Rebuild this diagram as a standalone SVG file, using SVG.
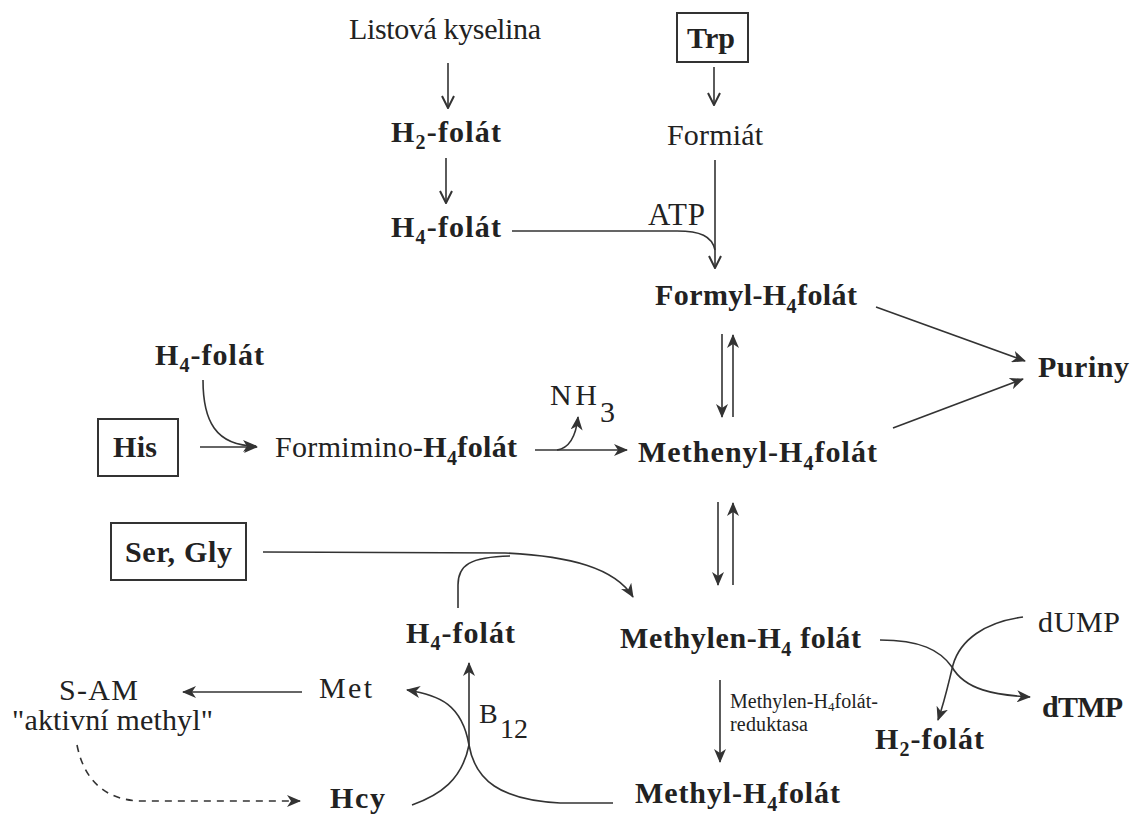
<svg xmlns="http://www.w3.org/2000/svg" width="1137" height="816" viewBox="0 0 1137 816">
<style>
svg{font-size:30px}
text{font-family:"Liberation Serif","Times New Roman",serif;fill:#222}
.b{font-weight:bold}
.box{fill:none;stroke:#333;stroke-width:2}
.c{fill:none;stroke:#333;stroke-width:1.6}
.arr{marker-end:url(#barb)}
.chev{marker-end:url(#chev)}
.dash{stroke-dasharray:7 6}
</style>
<defs>
<marker id="barb" viewBox="0 0 14 12" refX="13" refY="6" markerWidth="14" markerHeight="12" markerUnits="userSpaceOnUse" orient="auto">
<path d="M0,0 L14,6 L0,12 L4,6 Z" fill="#333"/>
</marker>
<marker id="chev" viewBox="0 0 14 14" refX="13" refY="7" markerWidth="14" markerHeight="14" markerUnits="userSpaceOnUse" orient="auto">
<path d="M1,1 L13,7 L1,13" fill="none" stroke="#333" stroke-width="2"/>
</marker>
</defs>
<rect width="1137" height="816" fill="#fff"/>

<g id="connectors">
<line class="c chev" x1="448" y1="63" x2="448" y2="108"/>
<line class="c chev" x1="446" y1="158" x2="446" y2="203"/>
<line class="c chev" x1="714" y1="67" x2="714" y2="105"/>
<line class="c chev" x1="715" y1="160" x2="715" y2="268"/>
<path class="c" d="M512,231 L677,231 C700,231 712,236 715,250"/>
<line class="c arr" x1="722" y1="334" x2="722" y2="417"/>
<line class="c arr" x1="733" y1="417" x2="733" y2="335"/>
<line class="c arr" x1="876" y1="307" x2="1025" y2="361"/>
<line class="c arr" x1="893" y1="428" x2="1023" y2="379"/>
<line class="c arr" x1="200" y1="447" x2="257" y2="447"/>
<path class="c arr" d="M203,380 C203,420 215,446 256,446"/>
<line class="c arr" x1="535" y1="450" x2="627" y2="450"/>
<path class="c arr" d="M557,450 C570,448 576,436 578,417"/>
<line class="c arr" x1="718" y1="502" x2="718" y2="585"/>
<line class="c arr" x1="733" y1="585" x2="733" y2="503"/>
<path class="c arr" d="M263,552 L505,553 C570,556 615,568 633,597"/>
<path class="c" d="M458,608 L458,585 C458,565 470,557 510,556"/>
<path class="c arr" d="M412,805 C440,795 462,780 469,745 L469,663"/>
<path class="c arr" d="M613,803 L560,803 C500,800 475,780 469,745 C462,705 440,695 407,690"/>
<line class="c arr" x1="302" y1="692" x2="183" y2="692"/>
<path class="c dash arr" d="M77,745 C85,785 110,800 140,801 L300,801"/>
<line class="c arr" x1="720" y1="680" x2="720" y2="762" stroke-width="2.4"/>
<path class="c arr" d="M880,640 C920,640 940,650 952,667 C965,690 995,695 1030,697"/>
<path class="c arr" d="M1023,617 C985,622 960,640 953,665 C948,685 945,700 938,720"/>
</g>

<g id="listova"><text x="349" y="39" textLength="192" lengthAdjust="spacing">Listová kyselina</text></g>
<g id="trp"><rect class="box" x="677" y="13" width="71" height="49"/><text class="b" x="687" y="48" textLength="48" lengthAdjust="spacing">Trp</text></g>
<g id="formiat"><text x="667" y="145" textLength="96" lengthAdjust="spacing">Formiát</text></g>
<g id="h2folat-top"><text class="b" x="391" y="142" textLength="110" lengthAdjust="spacing">H<tspan font-size="20" dy="7">2</tspan><tspan dy="-7">-folát</tspan></text></g>
<g id="h4folat-top"><text class="b" x="391" y="237" textLength="110" lengthAdjust="spacing">H<tspan font-size="20" dy="7">4</tspan><tspan dy="-7">-folát</tspan></text></g>
<g id="atp"><text x="648" y="225" font-size="31" textLength="57" lengthAdjust="spacing">ATP</text></g>
<g id="formyl"><text class="b" x="655" y="305" textLength="202" lengthAdjust="spacing">Formyl-H<tspan font-size="20" dy="8">4</tspan><tspan dy="-8">folát</tspan></text></g>
<g id="puriny"><text class="b" x="1038" y="377" textLength="91" lengthAdjust="spacing">Puriny</text></g>
<g id="h4folat-left"><text class="b" x="155" y="365" textLength="109" lengthAdjust="spacing">H<tspan font-size="20" dy="7">4</tspan><tspan dy="-7">-folát</tspan></text></g>
<g id="his"><rect class="box" x="98" y="419" width="80" height="57"/><text class="b" x="113" y="457" textLength="44" lengthAdjust="spacing">His</text></g>
<g id="formimino"><text x="275" y="457" textLength="242" lengthAdjust="spacing">Formimino-<tspan class="b">H</tspan><tspan class="b" font-size="20" dy="8">4</tspan><tspan class="b" dy="-8">folát</tspan></text></g>
<g id="nh3"><text x="550" y="405" textLength="47" lengthAdjust="spacing">NH</text><text x="600" y="422">3</text></g>
<g id="methenyl"><text class="b" x="638" y="462" textLength="239" lengthAdjust="spacing">Methenyl-H<tspan font-size="20" dy="8">4</tspan><tspan dy="-8">folát</tspan></text></g>
<g id="sergly"><rect class="box" x="111" y="523" width="135" height="57"/><text class="b" x="125" y="562" textLength="107" lengthAdjust="spacing">Ser, Gly</text></g>
<g id="h4folat-bottom"><text class="b" x="406" y="643" textLength="109" lengthAdjust="spacing">H<tspan font-size="20" dy="7">4</tspan><tspan dy="-7">-folát</tspan></text></g>
<g id="methylen"><text class="b" x="620" y="648" textLength="241" lengthAdjust="spacing">Methylen-H<tspan font-size="20" dy="8">4</tspan><tspan dy="-8"> folát</tspan></text></g>
<g id="reduktasa"><text x="730" y="708" font-size="20" textLength="148" lengthAdjust="spacing">Methylen-H<tspan font-size="13" dy="3">4</tspan><tspan dy="-3">folát-</tspan></text><text x="730" y="731" font-size="20" textLength="78" lengthAdjust="spacing">reduktasa</text></g>
<g id="dump"><text x="1038" y="632" textLength="82" lengthAdjust="spacing">dUMP</text></g>
<g id="dtmp"><text class="b" x="1042" y="717" textLength="81" lengthAdjust="spacing">dTMP</text></g>
<g id="h2folat-right"><text class="b" x="875" y="749" textLength="109" lengthAdjust="spacing">H<tspan font-size="20" dy="7">2</tspan><tspan dy="-7">-folát</tspan></text></g>
<g id="sam"><text x="59" y="700" textLength="79" lengthAdjust="spacing">S-AM</text><text x="12" y="730" textLength="201" lengthAdjust="spacing">"aktivní methyl"</text></g>
<g id="met"><text x="319" y="698" textLength="53" lengthAdjust="spacing">Met</text></g>
<g id="hcy"><text class="b" x="330" y="808" textLength="55" lengthAdjust="spacing">Hcy</text></g>
<g id="b12"><text x="479" y="723" font-size="28">B</text><text x="500" y="738" font-size="28">12</text></g>
<g id="methyl"><text class="b" x="635" y="803" textLength="205" lengthAdjust="spacing">Methyl-H<tspan font-size="20" dy="8">4</tspan><tspan dy="-8">folát</tspan></text></g>
</svg>
